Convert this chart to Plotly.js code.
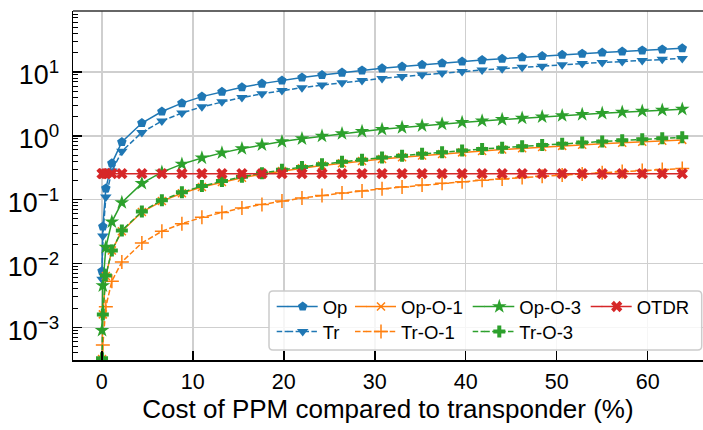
<!DOCTYPE html>
<html>
<head>
<meta charset="utf-8">
<script src="https://cdn.plot.ly/plotly-3.0.1.min.js"></script>
<style>html,body{margin:0;padding:0;background:#fff;overflow:hidden}#chart{width:703px;height:430px}</style>
</head>
<body>
<div id="chart"></div>
<script>
// Cost of PPM compared to transponder (%)
const costX = [0.022, 0.11, 0.44, 1.1, 2.2, 4.4, 6.6, 8.8, 11, 13.2, 15.4, 17.6, 19.8, 22, 24.2, 26.4, 28.6, 30.8, 33, 35.2, 37.4, 39.6, 41.8, 44, 46.2, 48.4, 50.6, 52.8, 55, 57.2, 59.4, 61.6, 63.8];

const opVals = [0.0076, 0.038, 0.15, 0.37, 0.80, 1.58, 2.40, 3.24, 4.1, 4.9, 5.75, 6.55, 7.35, 8.15, 8.95, 9.75, 10.55, 11.35, 12.1, 12.9, 13.7, 14.5, 15.3, 16.1, 16.9, 17.7, 18.5, 19.3, 20.1, 20.9, 21.7, 22.5, 23.4];
const trVals = [0.0057, 0.027, 0.11, 0.28, 0.57, 1.13, 1.70, 2.27, 2.84, 3.40, 3.97, 4.53, 5.10, 5.66, 6.22, 6.78, 7.34, 7.90, 8.46, 9.00, 9.57, 10.1, 10.7, 11.2, 11.8, 12.3, 12.9, 13.5, 14.0, 14.6, 15.1, 15.7, 16.2];
const opO1Vals = [0.00032, 0.0016, 0.0064, 0.016, 0.032, 0.064, 0.095, 0.126, 0.158, 0.189, 0.220, 0.250, 0.281, 0.311, 0.342, 0.372, 0.402, 0.432, 0.462, 0.491, 0.520, 0.550, 0.579, 0.608, 0.637, 0.665, 0.694, 0.722, 0.750, 0.778, 0.806, 0.834, 0.862];
const trO1Vals = [0.000106, 0.00053, 0.0021, 0.0053, 0.0106, 0.021, 0.032, 0.042, 0.053, 0.063, 0.074, 0.084, 0.095, 0.106, 0.116, 0.127, 0.137, 0.148, 0.158, 0.169, 0.180, 0.190, 0.201, 0.211, 0.222, 0.232, 0.243, 0.253, 0.264, 0.275, 0.285, 0.296, 0.306];
const opO3Vals = [0.0009, 0.0045, 0.018, 0.045, 0.090, 0.18, 0.27, 0.36, 0.45, 0.54, 0.63, 0.72, 0.81, 0.90, 0.99, 1.08, 1.17, 1.26, 1.35, 1.44, 1.53, 1.62, 1.71, 1.80, 1.89, 1.98, 2.07, 2.16, 2.25, 2.34, 2.43, 2.52, 2.61];
const trO3Vals = [0.00033, 0.0016, 0.0065, 0.016, 0.033, 0.065, 0.098, 0.130, 0.163, 0.195, 0.228, 0.260, 0.293, 0.325, 0.358, 0.391, 0.423, 0.456, 0.488, 0.521, 0.553, 0.586, 0.619, 0.651, 0.684, 0.716, 0.749, 0.781, 0.814, 0.847, 0.879, 0.912, 0.944];
const otdrVals = [0.255, 0.255, 0.255, 0.255, 0.255, 0.255, 0.255, 0.255, 0.255, 0.255, 0.255, 0.255, 0.255, 0.255, 0.255, 0.255, 0.255, 0.255, 0.255, 0.255, 0.255, 0.255, 0.255, 0.255, 0.255, 0.255, 0.255, 0.255, 0.255, 0.255, 0.255, 0.255, 0.255];

const seriesNames = ['Op', 'Tr', 'Op-O-1', 'Tr-O-1', 'Op-O-3', 'Tr-O-3', 'OTDR'];
const xTicks = [0, 10, 20, 30, 40, 50, 60];

const BLUE = '#1f77b4', ORANGE = '#ff7f0e', GREEN = '#2ca02c', RED = '#d62728';
const DASH = '5.5px,2.4px';
const FONT = 'Liberation Sans, Arial, sans-serif';

const L = 73, T = 11, B = 360, W = 703, H = 430;
const PW = W - L, PH = B - T;

// legend layout: column text starts (px) and row tops (px)
const colText = [322.7, 401, 519.3, 636.7];
const colLineStart = [276.7, 355, 472.7, 590.7];
const rowTop = [288, 313];
// [column, row] for each series
const legendSlot = [[0, 0], [0, 1], [1, 0], [1, 1], [2, 0], [2, 1], [3, 0]];

function tr(i, y, color, dash, symbol, size, extra) {
  const m = Object.assign({symbol: symbol, size: size, color: color, line: {width: 0, color: color}}, extra || {});
  return {x: costX, y: y, name: seriesNames[i], type: 'scatter', mode: 'lines+markers',
    line: {color: color, width: 1.5, dash: dash}, marker: m,
    legend: i === 0 ? 'legend' : 'legend' + (i + 1), cliponaxis: true};
}

const data = [
  tr(0, opVals, BLUE, 'solid', 'pentagon', 10),
  tr(1, trVals, BLUE, DASH, 'triangle-down', 10),
  tr(2, opO1Vals, ORANGE, 'solid', 'x-thin-open', 8, {line: {width: 1.5, color: ORANGE}}),
  tr(3, trO1Vals, ORANGE, DASH, 'cross-thin-open', 10, {line: {width: 1.5, color: ORANGE}}),
  tr(4, opO3Vals, GREEN, 'solid', 'star', 11),
  tr(5, trO3Vals, GREEN, DASH, 'cross', 10),
  tr(6, otdrVals, RED, 'solid', 'x', 10)
];

const legFont = {family: FONT, size: 18.5, color: '#000'};
const layout = {
  width: W, height: H,
  margin: {l: L, r: 0, t: T, b: H - B, pad: 0, autoexpand: false},
  paper_bgcolor: '#fff', plot_bgcolor: '#fff',
  font: {family: FONT, color: '#000'},
  showlegend: true,
  xaxis: {
    range: [-3.17, 66.08], tickvals: xTicks, ticktext: xTicks.map(String),
    ticks: 'inside', ticklen: 9, tickwidth: 1.5, tickcolor: '#000',
    showline: true, linecolor: '#000', linewidth: 1.5,
    showgrid: true, gridcolor: '#cfcfcf', gridwidth: 1.5, zeroline: false,
    tickfont: {family: FONT, size: 21.5, color: '#000'}, ticklabelstandoff: 2,
    title: {text: 'Cost of PPM compared to transponder (%)', font: {family: FONT, size: 26, color: '#000'}, standoff: 6}
  },
  yaxis: {
    type: 'log', range: [-3.51, 1.953], dtick: 1, exponentformat: 'power',
    labelalias: {'10': '10<sup>1</sup>', '1': '10<sup>0</sup>'},
    ticks: 'inside', ticklen: 9, tickwidth: 1.5, tickcolor: '#000',
    minor: {ticks: 'inside', ticklen: 5, tickwidth: 1, tickcolor: '#000', dtick: 'D1', showgrid: false},
    showline: true, linecolor: '#000', linewidth: 1.5,
    showgrid: true, gridcolor: '#cfcfcf', gridwidth: 1.5, zeroline: false,
    tickfont: {family: FONT, size: 21.5, color: '#000'}, ticklabelstandoff: 8, ticklabelshift: 3
  },
  shapes: [
    {type: 'line', xref: 'paper', yref: 'paper', x0: 0, x1: 1, y0: 1, y1: 1, line: {color: '#333', width: 1.5}, layer: 'above'},
    {type: 'path', xref: 'paper', yref: 'paper', xsizemode: 'pixel', ysizemode: 'pixel', xanchor: 0, yanchor: 0,
     path: 'M 200,10 L 624.7,10 Q 628.7,10 628.7,14 L 628.7,65 Q 628.7,69 624.7,69 L 200,69 Q 196,69 196,65 L 196,14 Q 196,10 200,10 Z',
     fillcolor: 'rgba(255,255,255,0.8)', line: {color: '#cccccc', width: 1.5}, layer: 'above'}
  ]
};

// one legend per entry so the columns and rows sit where the reference has them
data.forEach(function(t, i) {
  const slot = legendSlot[i];
  const key = i === 0 ? 'legend' : 'legend' + (i + 1);
  const top = rowTop[slot[1]];
  layout[key] = {xref: 'paper', yref: 'paper', x: (colText[slot[0]] - 40 - L) / PW, y: (B - top) / PH,
    xanchor: 'left', yanchor: 'top', orientation: 'v', bgcolor: 'rgba(0,0,0,0)', borderwidth: 0,
    font: legFont, tracegroupgap: 0, itemclick: false};
  // lengthen the legend key line on its left to the reference's key length
  const lineY = B - (top + 18.5);
  const xs = colLineStart[slot[0]] - L, xe = colText[slot[0]] - 40 + 5 - L + 0.5;
  layout.shapes.push({type: 'line', xref: 'paper', yref: 'paper', xsizemode: 'pixel', ysizemode: 'pixel',
    xanchor: 0, yanchor: 0, x0: xs, x1: xe, y0: lineY, y1: lineY,
    line: {color: t.line.color, width: 1.5, dash: t.line.dash}, layer: 'above'});
});

Plotly.newPlot('chart', data, layout, {displayModeBar: false, staticPlot: true});
</script>
</body>
</html>
